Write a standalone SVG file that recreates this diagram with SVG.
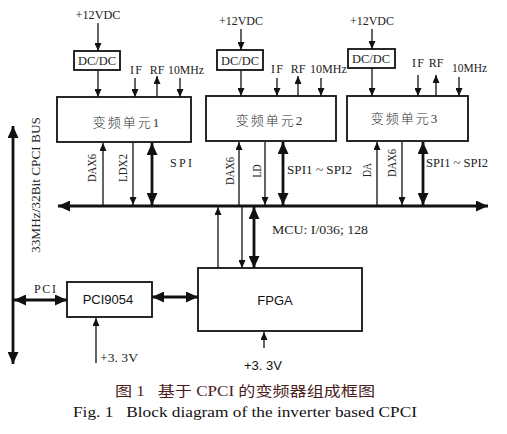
<svg xmlns="http://www.w3.org/2000/svg" width="507" height="434" viewBox="0 0 507 434">
<defs>
<marker id="ah" markerUnits="userSpaceOnUse" markerWidth="8" markerHeight="7" refX="8" refY="3.5" orient="auto-start-reverse"><path d="M0,0 L8,3.5 L0,7 z" fill="#111"/></marker>
<marker id="ahT" markerUnits="userSpaceOnUse" markerWidth="12" markerHeight="11" refX="12" refY="5.5" orient="auto-start-reverse"><path d="M0,0 L12,5.5 L0,11 z" fill="#111"/></marker>
</defs>
<style>
.box{fill:#fff;stroke:#111;stroke-width:1.8}
.t{font-family:"Liberation Serif","DejaVu Serif",serif;font-size:12px;fill:#222}
.s{font-family:"Liberation Sans",Arial,sans-serif;font-size:13px;fill:#111}
.cn{font-family:"Liberation Serif","Noto Sans CJK SC",serif;font-size:13px;font-weight:300;fill:#333;letter-spacing:2px}
.l{stroke:#111;stroke-width:1.3;fill:none;marker-end:url(#ah)}
.k{stroke:#111;stroke-width:2.8;fill:none;marker-start:url(#ahT);marker-end:url(#ahT)}
</style>
<rect width="507" height="434" fill="#fff"/>

<g id="unit1">
<rect class="box" x="57" y="97" width="134" height="45"/>
<text class="cn" x="127" y="127" text-anchor="middle">变频单元1</text>
</g>
<g id="dcdc1">
<rect class="box" x="74" y="51" width="46" height="19"/>
<text class="t" x="97" y="65" text-anchor="middle" textLength="38" lengthAdjust="spacingAndGlyphs">DC/DC</text>
</g>
<g id="unit2">
<rect class="box" x="206" y="96" width="130" height="45"/>
<text class="cn" x="270" y="125" text-anchor="middle">变频单元2</text>
</g>
<g id="dcdc2">
<rect class="box" x="217" y="50" width="46" height="20"/>
<text class="t" x="240" y="65" text-anchor="middle" textLength="38" lengthAdjust="spacingAndGlyphs">DC/DC</text>
</g>
<g id="unit3">
<rect class="box" x="347" y="96" width="121" height="45"/>
<text class="cn" x="405" y="123" text-anchor="middle">变频单元3</text>
</g>
<g id="dcdc3">
<rect class="box" x="348" y="49" width="47" height="19"/>
<text class="t" x="371" y="63" text-anchor="middle" textLength="38" lengthAdjust="spacingAndGlyphs">DC/DC</text>
</g>
<g id="fpga">
<rect class="box" x="198" y="268" width="164" height="63"/>
<text class="s" x="275" y="305" text-anchor="middle">FPGA</text>
</g>
<g id="pci9054">
<rect class="box" x="67" y="282" width="85" height="35"/>
<text class="s" x="108" y="304" text-anchor="middle">PCI9054</text>
</g>

<g id="labels">
<text class="t" x="98" y="19" text-anchor="middle" textLength="45" lengthAdjust="spacingAndGlyphs">+12VDC</text>
<text class="t" x="241" y="25" text-anchor="middle" textLength="44" lengthAdjust="spacingAndGlyphs">+12VDC</text>
<text class="t" x="372" y="25" text-anchor="middle" textLength="44" lengthAdjust="spacingAndGlyphs">+12VDC</text>
<text class="t" x="136" y="74" text-anchor="middle" textLength="12">IF</text>
<text class="t" x="157" y="74" text-anchor="middle">RF</text>
<text class="t" x="168" y="74" textLength="36" lengthAdjust="spacingAndGlyphs">10MHz</text>
<text class="t" x="277" y="73" text-anchor="middle" textLength="12">IF</text>
<text class="t" x="298" y="73" text-anchor="middle">RF</text>
<text class="t" x="310" y="73" textLength="37" lengthAdjust="spacingAndGlyphs">10MHz</text>
<text class="t" x="418" y="67" text-anchor="middle" textLength="12">IF</text>
<text class="t" x="436" y="67" text-anchor="middle">RF</text>
<text class="t" x="452" y="72" textLength="35" lengthAdjust="spacingAndGlyphs">10MHz</text>
<text class="t" transform="translate(96,168) rotate(-90)" text-anchor="middle" textLength="28" lengthAdjust="spacingAndGlyphs">DAX6</text>
<text class="t" transform="translate(127,168) rotate(-90)" text-anchor="middle" textLength="28" lengthAdjust="spacingAndGlyphs">LDX2</text>
<text class="t" x="170" y="167" textLength="22">SPI</text>
<text class="t" transform="translate(234,171) rotate(-90)" text-anchor="middle" textLength="28" lengthAdjust="spacingAndGlyphs">DAX6</text>
<text class="t" transform="translate(261,171) rotate(-90)" text-anchor="middle" textLength="13" lengthAdjust="spacingAndGlyphs">LD</text>
<text class="t" x="287" y="174" textLength="65" lengthAdjust="spacingAndGlyphs">SPI1 ~ SPI2</text>
<text class="t" transform="translate(371,170) rotate(-90)" text-anchor="middle" textLength="14" lengthAdjust="spacingAndGlyphs">DA</text>
<text class="t" transform="translate(396,163) rotate(-90)" text-anchor="middle" textLength="28" lengthAdjust="spacingAndGlyphs">DAX6</text>
<text class="t" x="426" y="167" textLength="62" lengthAdjust="spacingAndGlyphs">SPI1 ~ SPI2</text>
<text class="t" x="272" y="234" textLength="96" lengthAdjust="spacingAndGlyphs">MCU: I/036; 128</text>
<text class="t" x="45" y="293" text-anchor="middle" textLength="22">PCI</text>
<text class="t" x="100" y="362" textLength="38" lengthAdjust="spacingAndGlyphs">+3. 3V</text>
<text class="s" x="263" y="370" text-anchor="middle" font-size="12" textLength="38" lengthAdjust="spacingAndGlyphs">+3. 3V</text>
<text class="t" transform="translate(40,185) rotate(-90)" text-anchor="middle" textLength="136" lengthAdjust="spacingAndGlyphs">33MHz/32Bit CPCI BUS</text>
</g>

<g id="connectors">
<line class="l" x1="98" y1="23" x2="98" y2="51"/>
<line class="l" x1="98" y1="70" x2="98" y2="97"/>
<line class="l" x1="135" y1="78" x2="135" y2="97"/>
<line class="l" x1="157" y1="97" x2="157" y2="76"/>
<line class="l" x1="180" y1="78" x2="180" y2="97"/>
<line class="l" x1="241" y1="29" x2="241" y2="50"/>
<line class="l" x1="241" y1="70" x2="241" y2="96"/>
<line class="l" x1="277" y1="78" x2="277" y2="96"/>
<line class="l" x1="298" y1="96" x2="298" y2="76"/>
<line class="l" x1="321" y1="78" x2="321" y2="96"/>
<line class="l" x1="372" y1="29" x2="372" y2="49"/>
<line class="l" x1="372" y1="68" x2="372" y2="96"/>
<line class="l" x1="418" y1="75" x2="418" y2="96"/>
<line class="l" x1="436" y1="96" x2="436" y2="75"/>
<line class="l" x1="459" y1="77" x2="459" y2="96"/>

<line class="l" x1="103" y1="205" x2="103" y2="143"/>
<line class="l" x1="133" y1="143" x2="133" y2="205"/>
<line class="k" x1="152" y1="143" x2="152" y2="205"/>
<line class="l" x1="239" y1="205" x2="239" y2="142"/>
<line class="l" x1="265" y1="142" x2="265" y2="205"/>
<line class="k" x1="283" y1="142" x2="283" y2="205"/>
<line class="l" x1="377" y1="205" x2="377" y2="142"/>
<line class="l" x1="402" y1="142" x2="402" y2="205"/>
<line class="k" x1="423" y1="142" x2="423" y2="205"/>

<line class="k" x1="58" y1="206" x2="488" y2="206" stroke-width="3"/>
<line class="k" x1="13" y1="126" x2="13" y2="364" stroke-width="3"/>

<line class="l" x1="218" y1="268" x2="218" y2="207"/>
<line class="l" x1="242" y1="207" x2="242" y2="268"/>
<line class="k" x1="254" y1="207" x2="254" y2="268"/>

<line class="k" x1="14" y1="300" x2="67" y2="300"/>
<line class="k" x1="152" y1="297" x2="198" y2="297"/>
<line class="l" x1="96" y1="363" x2="96" y2="318"/>
<line class="l" x1="264" y1="348" x2="264" y2="332"/>
</g>

<g id="caption">
<text xml:space="preserve" x="245" y="396" text-anchor="middle" font-family="'Liberation Serif','Noto Sans CJK SC',serif" font-size="14" fill="#4a1c1c" textLength="260" lengthAdjust="spacingAndGlyphs">图 1   基于 CPCI 的变频器组成框图</text>
<text xml:space="preserve" x="73" y="417" font-family="'Liberation Serif',serif" font-size="15" fill="#111" textLength="344" lengthAdjust="spacingAndGlyphs">Fig. 1   Block diagram of the inverter based CPCI</text>
</g>
</svg>
